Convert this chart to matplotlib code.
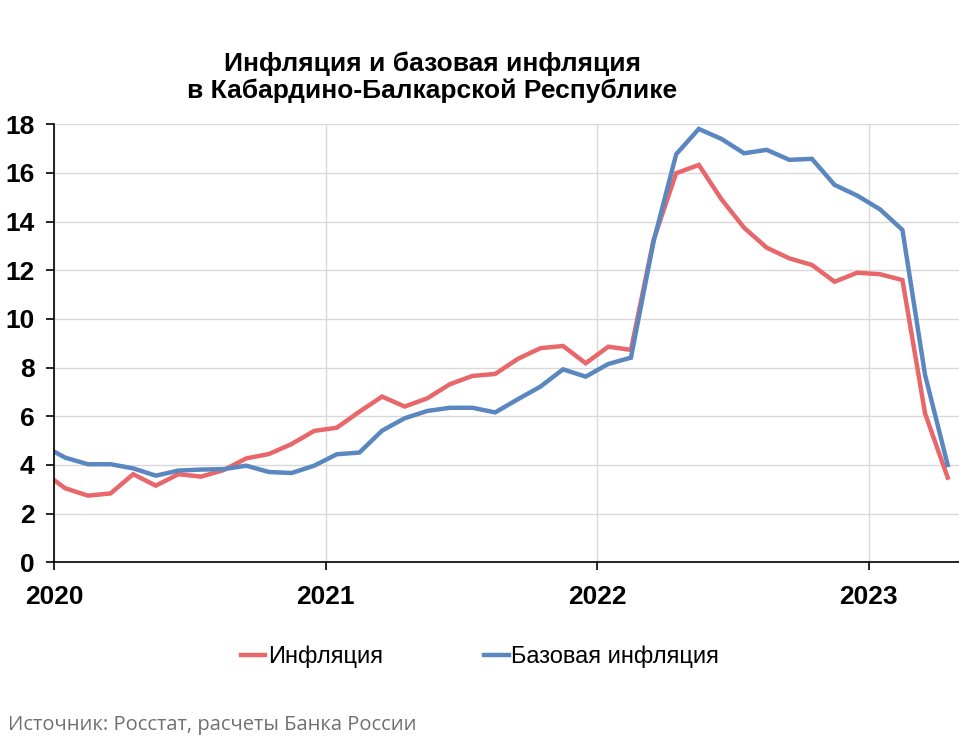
import numpy as np
import pandas as pd
import matplotlib
matplotlib.use("Agg")
import matplotlib.pyplot as plt

plt.rcParams["font.family"] = ["Liberation Sans", "DejaVu Sans"]

# Месяцы (декабрь 2019 нужен, чтобы линия начиналась от оси)
months = pd.date_range("2019-12-01", "2023-04-01", freq="MS")

inflation = [3.72, 3.04, 2.74, 2.83, 3.62, 3.15, 3.62, 3.52, 3.79, 4.27, 4.45, 4.86, 5.40,
             5.53, 6.19, 6.81, 6.40, 6.74, 7.32, 7.66, 7.74, 8.36, 8.80, 8.89, 8.18,
             8.86, 8.73, 13.25, 15.99, 16.33, 14.92, 13.75, 12.93, 12.49, 12.22, 11.53, 11.90,
             11.84, 11.60, 6.12, 3.48]
core_inflation = [4.80, 4.30, 4.03, 4.03, 3.86, 3.56, 3.77, 3.81, 3.83, 3.97, 3.71, 3.67, 3.97,
                  4.44, 4.51, 5.41, 5.92, 6.22, 6.35, 6.35, 6.16, 6.70, 7.22, 7.93, 7.63,
                  8.15, 8.41, 13.18, 16.77, 17.81, 17.40, 16.81, 16.95, 16.54, 16.58, 15.51, 15.07,
                  14.51, 13.66, 7.70, 4.00]

years = [2020, 2021, 2022, 2023]

# середина месяца от января 2020
x = (months.year - 2020) * 12 + months.month - 1 + 0.5

fig = plt.figure(figsize=(9.59, 7.42), dpi=100)
ax = fig.add_axes([54 / 959, 1 - 562.3 / 742, 1 - 54 / 959, (562.3 - 124.3) / 742])

red = "#E8676B"
blue = "#5B87C0"
ax.plot(x, inflation, color=red, lw=3.2, label="Инфляция", solid_joinstyle="miter")
ax.plot(x, core_inflation, color=blue, lw=3.2, label="Базовая инфляция", solid_joinstyle="miter")

ax.set_xlim(0, 40)
ax.set_ylim(0, 18)
ax.set_yticks(np.arange(0, 19, 2))
ax.set_xticks([(y - 2020) * 12 for y in years])
ax.set_xticklabels([str(y) for y in years])

ax.grid(True, color="#D9D9D9", lw=1.0)
ax.set_axisbelow(True)
for s in ["top", "right"]:
    ax.spines[s].set_visible(False)
for s in ["left", "bottom"]:
    ax.spines[s].set_color("black")
    ax.spines[s].set_linewidth(1.2)

ax.tick_params(axis="y", length=6, width=1.2, pad=8, labelsize=19)
ax.tick_params(axis="x", length=6, width=1.2, pad=10, labelsize=19)
for lab in ax.get_xticklabels() + ax.get_yticklabels():
    lab.set_fontweight("bold")

fig.text(432 / 959, 1 - 77 / 742, "Инфляция и базовая инфляция\nв Кабардино-Балкарской Республике",
         ha="center", va="center", fontsize=19, fontweight="bold", linespacing=1.15)

fig.legend(loc="center", bbox_to_anchor=(480 / 959, 1 - 657 / 742), ncol=2, frameon=False,
           fontsize=17, handlelength=1.05, handletextpad=0.1, columnspacing=4.3)

fig.text(8 / 959, 1 - 725 / 742, "Источник: Росстат, расчеты Банка России",
         ha="left", va="center", fontsize=14.5, color="#707070", family=["Open Sans", "DejaVu Sans"])

fig.savefig("out.png", dpi=100)
